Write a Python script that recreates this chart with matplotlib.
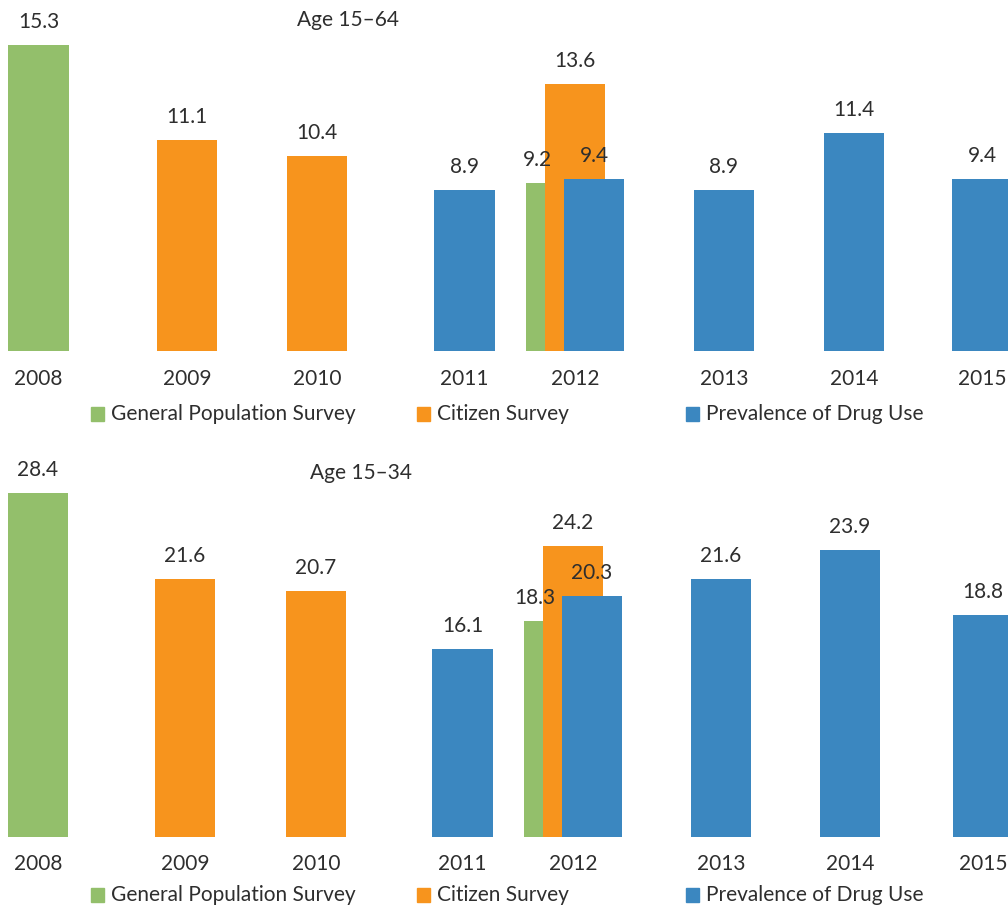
import matplotlib
matplotlib.use("Agg")
import matplotlib.pyplot as plt
from matplotlib.patches import Rectangle

plt.rcParams['font.family'] = ['Lato', 'DejaVu Sans']

# ---- data ----
years = ["2008", "2009", "2010", "2011", "2012", "2013", "2014", "2015"]
series_names = ["General Population Survey", "Citizen Survey", "Prevalence of Drug Use"]
colors = ["#93bf6b", "#f7941d", "#3b87c0"]

# values per series (None = no bar for that year)
gps_1564 = [15.3, None, None, None, 9.2, None, None, None]
cit_1564 = [None, 11.1, 10.4, None, 13.6, None, None, None]
pdu_1564 = [None, None, None, 8.9, 9.4, 8.9, 11.4, 9.4]

gps_1534 = [28.4, None, None, None, 18.3, None, None, None]
cit_1534 = [None, 21.6, 20.7, None, 24.2, None, None, None]
pdu_1534 = [None, None, None, 16.1, 20.3, 21.6, 23.9, 18.8]

titles = ["Age 15\u201364", "Age 15\u201334"]

# ---- layout (pixel units) ----
W, H = 1008, 905
fig = plt.figure(figsize=(W / 100, H / 100), dpi=100)
TXT = "#2e2e2e"
FS = 15

# category centres for each panel (pixels)
centers_top = [38.5, 187, 317, 464.5, 575, 724, 854, 982]
centers_bot = [38, 185, 316, 462.5, 573, 721, 850, 983]
bar_w = 60.5
offsets = [-19, 0, 19]   # for the year with several series

panels = [
    dict(vals=[gps_1564, cit_1564, pdu_1564], centers=centers_top, base_px=350.5,
         top_px=0, ylim=(1.82, 1.82 + 350.5 / 22.66), title_xy=(348, 20),
         year_y=379, legend_y=414),
    dict(vals=[gps_1534, cit_1534, pdu_1534], centers=centers_bot, base_px=837,
         top_px=440, ylim=(1.27, 1.27 + (837 - 440) / 12.68), title_xy=(361, 473),
         year_y=864, legend_y=895),
]

def fx(x):
    return x / W

def fy(y):
    return 1 - y / H

for k, p in enumerate(panels):
    ax = fig.add_axes([0, fy(p["base_px"]), 1, (p["base_px"] - p["top_px"]) / H])
    ax.set_xlim(0, W)
    ax.set_ylim(*p["ylim"])
    ax.axis("off")
    base = p["ylim"][0]
    for i, year in enumerate(years):
        present = [s for s in range(3) if p["vals"][s][i] is not None]
        multi = len(present) > 1
        for s in present:
            v = p["vals"][s][i]
            cx = p["centers"][i] + (offsets[s] if multi else 0)
            ax.bar(cx, v - base, bottom=base, width=bar_w, color=colors[s],
                   zorder=2 + s, linewidth=0)
            lx = cx
            if multi and s == 0:
                lx = cx - 19
            ax.annotate(f"{v:.1f}", (lx, v), xytext=(0, 23), textcoords="offset pixels",
                        ha="center", va="center", fontsize=FS, color=TXT, zorder=10,
                        annotation_clip=False)
        fig.text(fx(p["centers"][i]), fy(p["year_y"]), year, ha="center", va="center",
                 fontsize=FS, color=TXT)
    # title
    fig.text(fx(p["title_xy"][0]), fy(p["title_xy"][1]),
             titles[k], ha="center", va="center", fontsize=FS, color=TXT)
    # legend
    leg_sq = [91, 417, 686]
    for s in range(3):
        fig.patches.append(Rectangle((fx(leg_sq[s]), fy(p["legend_y"] + 7)), 13 / W, 14 / H,
                                     transform=fig.transFigure, color=colors[s]))
        fig.text(fx(leg_sq[s] + 20), fy(p["legend_y"]), series_names[s], ha="left",
                 va="center", fontsize=FS, color=TXT)

fig.savefig("out.png", dpi=100)
